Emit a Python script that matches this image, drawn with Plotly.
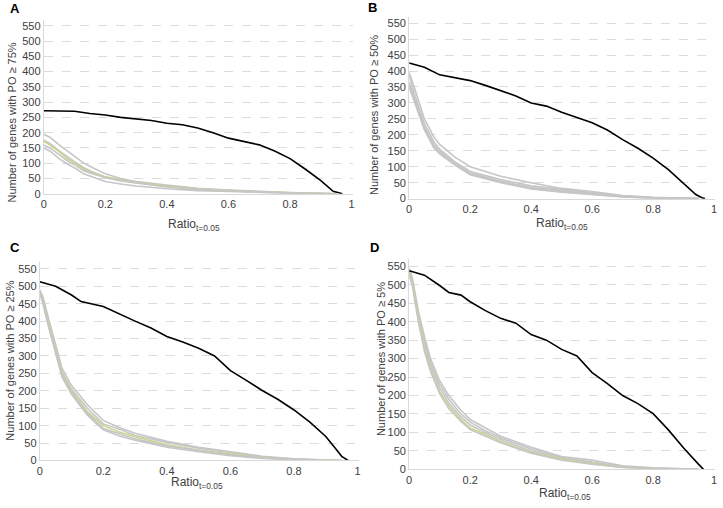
import plotly.graph_objects as go

W, H = 723, 508

# ---------------- Data ----------------
# Panel A (PO >= 75%)
A_black_x = [0, 0.05, 0.1, 0.15, 0.2, 0.25, 0.3, 0.35, 0.4, 0.45, 0.5, 0.55, 0.6, 0.65, 0.7, 0.75, 0.8, 0.85, 0.9, 0.94, 0.96, 0.97]
A_black_y = [272, 272, 270, 263, 258, 250, 245, 240, 231, 226, 215, 200, 182, 172, 160, 140, 115, 80, 43, 8, 3, 0]
A_gray_x = [0, 0.02, 0.05, 0.08, 0.1, 0.13, 0.15, 0.2, 0.25, 0.3, 0.4, 0.5, 0.6, 0.7, 0.8, 0.9, 0.95]
A_gray1 = [195, 185, 160, 138, 125, 100, 90, 65, 50, 40, 28, 18, 12, 7, 4, 1, 0]
A_gray2 = [175, 165, 140, 118, 105, 85, 75, 55, 45, 38, 25, 16, 10, 6, 3, 1, 0]
A_green = [172, 160, 138, 112, 100, 80, 70, 55, 45, 36, 24, 15, 10, 5, 3, 0, 0]
A_gray3 = [160, 150, 128, 105, 95, 75, 68, 52, 42, 35, 22, 14, 9, 5, 2, 0, 0]
A_gray4 = [150, 140, 115, 95, 85, 65, 58, 40, 32, 25, 16, 10, 7, 4, 2, 0, 0]

# Panel B (PO >= 50%)
B_black_x = [0, 0.05, 0.1, 0.15, 0.2, 0.25, 0.3, 0.35, 0.4, 0.45, 0.5, 0.55, 0.6, 0.65, 0.7, 0.75, 0.8, 0.85, 0.9, 0.94, 0.96, 0.97]
B_black_y = [425, 412, 388, 380, 370, 355, 338, 322, 300, 290, 271, 255, 238, 215, 185, 158, 127, 91, 49, 13, 3, 0]
B_gray_x = [0, 0.02, 0.05, 0.08, 0.1, 0.15, 0.2, 0.3, 0.4, 0.5, 0.6, 0.7, 0.8, 0.9, 0.95]
B_gray1 = [395, 340, 250, 195, 170, 130, 100, 70, 50, 32, 22, 10, 4, 1, 0]
B_gray2 = [385, 320, 235, 180, 155, 115, 85, 60, 40, 28, 18, 8, 3, 1, 0]
B_gray3 = [365, 310, 225, 170, 150, 110, 80, 55, 35, 25, 15, 7, 2, 0, 0]
B_gray4 = [355, 300, 220, 165, 145, 108, 78, 52, 32, 22, 14, 6, 2, 0, 0]
B_gray5 = [350, 295, 215, 160, 140, 105, 75, 50, 30, 20, 12, 5, 1, 0, 0]

# Panel C (PO >= 25%)
C_black_x = [0, 0.05, 0.1, 0.13, 0.2, 0.25, 0.3, 0.35, 0.4, 0.45, 0.5, 0.55, 0.6, 0.65, 0.7, 0.75, 0.8, 0.85, 0.9, 0.93, 0.95, 0.97]
C_black_y = [513, 500, 475, 456, 442, 420, 400, 380, 356, 340, 322, 300, 258, 230, 201, 175, 145, 110, 69, 35, 12, 0]
C_gray_x = [0, 0.01, 0.03, 0.05, 0.07, 0.1, 0.15, 0.2, 0.25, 0.3, 0.4, 0.5, 0.6, 0.7, 0.8, 0.9, 0.95]
C_gray1 = [490, 470, 400, 330, 265, 215, 160, 115, 95, 78, 55, 38, 25, 12, 5, 1, 0]
C_gray2 = [488, 465, 390, 320, 255, 205, 150, 105, 90, 72, 52, 35, 22, 10, 4, 1, 0]
C_green = [485, 460, 385, 315, 250, 200, 140, 100, 82, 68, 45, 30, 20, 8, 3, 0, 0]
C_gray3 = [482, 455, 380, 310, 245, 195, 135, 92, 76, 62, 42, 28, 16, 7, 2, 0, 0]
C_gray4 = [480, 450, 375, 305, 240, 190, 130, 88, 70, 58, 38, 25, 14, 6, 2, 0, 0]

# Panel D (PO >= 5%)
D_black_x = [0, 0.05, 0.1, 0.13, 0.17, 0.2, 0.25, 0.3, 0.35, 0.4, 0.45, 0.5, 0.55, 0.6, 0.65, 0.7, 0.75, 0.8, 0.85, 0.9, 0.95, 0.965]
D_black_y = [538, 526, 498, 479, 472, 454, 430, 409, 396, 365, 350, 325, 307, 262, 232, 200, 178, 151, 107, 58, 13, 0]
D_gray_x = [0, 0.01, 0.03, 0.05, 0.07, 0.1, 0.13, 0.17, 0.2, 0.25, 0.3, 0.4, 0.5, 0.6, 0.7, 0.8, 0.9, 0.95]
D_gray1 = [545, 520, 430, 360, 300, 240, 200, 160, 135, 112, 90, 60, 35, 25, 10, 4, 1, 0]
D_gray2 = [540, 515, 420, 350, 290, 230, 190, 150, 128, 105, 85, 55, 32, 20, 8, 3, 1, 0]
D_gray3 = [535, 510, 415, 340, 280, 220, 180, 142, 120, 100, 80, 50, 30, 18, 7, 3, 0, 0]
D_green = [530, 505, 410, 330, 270, 210, 172, 135, 112, 95, 75, 46, 28, 15, 6, 2, 0, 0]
D_gray4 = [525, 500, 400, 320, 265, 205, 165, 130, 108, 90, 72, 44, 25, 14, 5, 2, 0, 0]

y_titles = ["Number of genes with PO \u2265 75%", "Number of genes with PO \u2265 50%",
            "Number of genes with PO \u2265 25%", "Number of genes with PO \u2265 5%"]
panel_letters = ["A", "B", "C", "D"]
x_title = "Ratio<sub>t=0.05</sub>"
x_tick_vals = [0, 0.2, 0.4, 0.6, 0.8, 1]
x_tick_text = ["0", "0.2", "0.4", "0.6", "0.8", "1"]
y_tick_vals = list(range(0, 551, 50))

# ---------------- Styling / layout ----------------
GRAY = "#c6c6c6"
GREEN = "#c8d68a"
FONT = "Liberation Sans, Arial, sans-serif"

# pixel boxes: (x0, x1, ytop, ybottom)
boxes = [(41, 352, 20, 196), (409, 717, 17, 201), (37, 358, 265, 466), (409, 717, 262, 475)]
ytitle_pos = [(9, 124), (373, 116), (7, 365), (380, 363)]
xtitle_pos = [(192, 228), (563, 227), (195, 489), (566, 500)]
letter_pos = [(12, 9), (372, 8), (12, 250), (374, 250)]

panels = [
    (A_black_x, A_black_y, A_gray_x, [(A_gray1, GRAY), (A_gray2, GRAY), (A_green, GREEN), (A_gray3, GRAY), (A_gray4, GRAY)]),
    (B_black_x, B_black_y, B_gray_x, [(B_gray1, GRAY), (B_gray2, GRAY), (B_gray3, GRAY), (B_gray4, GRAY), (B_gray5, GRAY)]),
    (C_black_x, C_black_y, C_gray_x, [(C_gray1, GRAY), (C_gray2, GRAY), (C_green, GREEN), (C_gray3, GRAY), (C_gray4, GRAY)]),
    (D_black_x, D_black_y, D_gray_x, [(D_gray1, GRAY), (D_gray2, GRAY), (D_gray3, GRAY), (D_green, GREEN), (D_gray4, GRAY)]),
]

fig = go.Figure()
layout = dict(width=W, height=H, margin=dict(l=0, r=0, t=0, b=0),
              paper_bgcolor="white", plot_bgcolor="white", showlegend=False,
              font=dict(family=FONT, size=11, color="#404040"))
annotations = []

for i, (bx, by, gx, grays) in enumerate(panels):
    n = "" if i == 0 else str(i + 1)
    xa, ya = "x" + n, "y" + n
    x0, x1, yt, yb = boxes[i]
    layout["xaxis" + n] = dict(domain=[x0 / W, x1 / W], range=[0, 1.003],
                               tickvals=x_tick_vals, ticktext=x_tick_text,
                               showgrid=False, zeroline=False, showline=True,
                               linecolor="#d9d9d9", linewidth=1, ticks="",
                               ticklabeloverflow="allow",
                               tickfont=dict(size=11, color="#404040"),
                               anchor=ya)
    layout["yaxis" + n] = dict(domain=[1 - yb / H, 1 - yt / H], range=[0, 570],
                               tickvals=y_tick_vals,
                               showgrid=True, gridcolor="#dcdcdc", griddash="dash", gridwidth=1,
                               zeroline=False, showline=True, linecolor="#d9d9d9", linewidth=1,
                               ticks="", tickfont=dict(size=11, color="#404040"),
                               anchor=xa)
    for vals, col in grays:
        fig.add_trace(go.Scatter(x=gx, y=vals, mode="lines", xaxis=xa, yaxis=ya,
                                 line=dict(color=col, width=1.6), hoverinfo="skip"))
    fig.add_trace(go.Scatter(x=bx, y=by, mode="lines", xaxis=xa, yaxis=ya,
                             line=dict(color="black", width=1.6), hoverinfo="skip"))

    tx, ty = ytitle_pos[i]
    annotations.append(dict(x=tx / W, y=1 - ty / H, xref="paper", yref="paper",
                            text=y_titles[i], textangle=-90, showarrow=False,
                            font=dict(size=11, color="#404040"), xanchor="center", yanchor="middle"))
    tx, ty = xtitle_pos[i]
    annotations.append(dict(x=tx / W, y=1 - ty / H, xref="paper", yref="paper",
                            text=x_title, showarrow=False,
                            font=dict(size=12, color="#404040"), xanchor="center", yanchor="middle"))
    tx, ty = letter_pos[i]
    annotations.append(dict(x=tx / W, y=1 - ty / H, xref="paper", yref="paper",
                            text="<b>" + panel_letters[i] + "</b>", showarrow=False,
                            font=dict(size=13, color="black"), xanchor="center", yanchor="middle"))

layout["annotations"] = annotations
fig.update_layout(**layout)
fig.write_html("out.html", config={"displayModeBar": False},
               post_script="document.body.style.margin='0';document.body.style.overflow='hidden';")
